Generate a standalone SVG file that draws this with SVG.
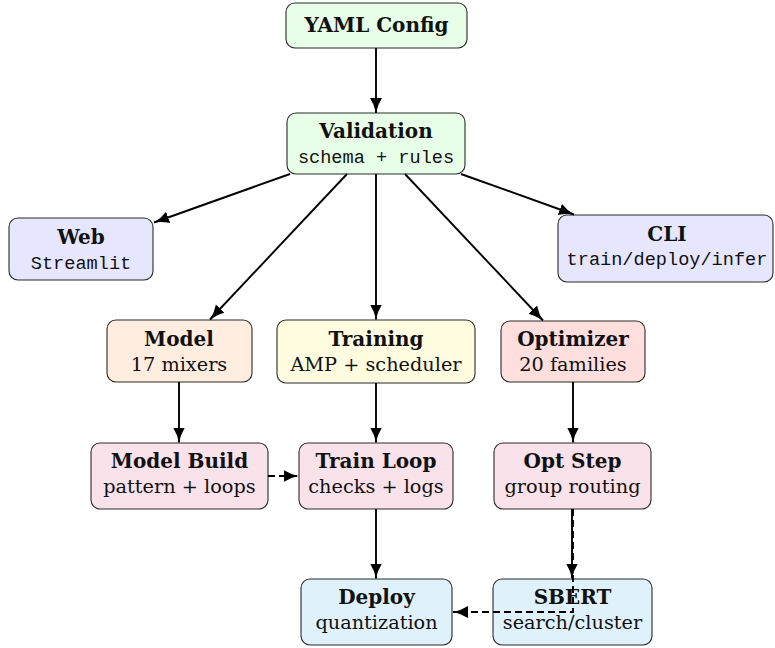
<svg xmlns="http://www.w3.org/2000/svg" width="775" height="648" viewBox="0 0 775 648">
<style>
.box{stroke:#2a2a2a;stroke-width:1.1}
.t{font-family:"DejaVu Serif","Liberation Serif",serif;font-weight:bold;font-size:20px;fill:#111;text-anchor:middle}
.s{font-family:"DejaVu Serif","Liberation Serif",serif;font-size:19.3px;fill:#111;text-anchor:middle}
.m{font-family:"Liberation Mono","DejaVu Sans Mono",monospace;font-size:18.6px;fill:#111;text-anchor:middle}
.green{fill:#e6ffe6}.blue{fill:#e6e6ff}.orange{fill:#ffeee0}.yellow{fill:#fffce0}.red{fill:#ffdede}.pink{fill:#f9e2ea}.cyan{fill:#dff2fb}
.c{stroke:#000;stroke-width:1.9;fill:none;marker-end:url(#ah)}
.d{stroke-dasharray:7 4}
</style>
<defs>
<marker id="ah" markerUnits="userSpaceOnUse" markerWidth="18" markerHeight="14" refX="15" refY="6" orient="auto">
<path d="M0,0 Q7,4.5 15,6 Q7,7.5 0,12 Z" fill="#000"/>
</marker>
</defs>
<g id="yaml"><rect class="box green" x="286" y="3" width="181" height="45" rx="9"/><text class="t" x="376.5" y="32">YAML Config</text></g>
<g id="validation"><rect class="box green" x="287" y="113" width="178" height="61" rx="9"/><text class="t" x="376" y="138">Validation</text><text class="m" x="376" y="163">schema + rules</text></g>
<g id="web"><rect class="box blue" x="9" y="218" width="144" height="62" rx="9"/><text class="t" x="81" y="244">Web</text><text class="m" x="81" y="269">Streamlit</text></g>
<g id="cli"><rect class="box blue" x="558" y="215" width="215" height="67" rx="9"/><text class="t" x="667" y="241">CLI</text><text class="m" x="667" y="265">train/deploy/infer</text></g>
<g id="model"><rect class="box orange" x="107" y="320" width="145" height="62" rx="9"/><text class="t" x="179" y="346">Model</text><text class="s" x="179" y="371">17 mixers</text></g>
<g id="training"><rect class="box yellow" x="277" y="320" width="198" height="63" rx="9"/><text class="t" x="376" y="346">Training</text><text class="s" x="376" y="371">AMP + scheduler</text></g>
<g id="optimizer"><rect class="box red" x="501" y="321" width="144" height="61" rx="9"/><text class="t" x="573" y="346">Optimizer</text><text class="s" x="573" y="371">20 families</text></g>
<g id="modelbuild"><rect class="box pink" x="91" y="443" width="177" height="66" rx="9"/><text class="t" x="179.5" y="468">Model Build</text><text class="s" x="179.5" y="493">pattern + loops</text></g>
<g id="trainloop"><rect class="box pink" x="299" y="443" width="154" height="66" rx="9"/><text class="t" x="376" y="468">Train Loop</text><text class="s" x="376" y="493">checks + logs</text></g>
<g id="optstep"><rect class="box pink" x="494" y="443" width="157" height="66" rx="9"/><text class="t" x="572.5" y="468">Opt Step</text><text class="s" x="572.5" y="493">group routing</text></g>
<g id="deploy"><rect class="box cyan" x="301" y="579" width="151" height="66" rx="9"/><text class="t" x="376.5" y="604">Deploy</text><text class="s" x="376.5" y="629">quantization</text></g>
<g id="sbert"><rect class="box cyan" x="493" y="579" width="159" height="66" rx="9"/><text class="t" x="572.5" y="604">SBERT</text><text class="s" x="572.5" y="629">search/cluster</text></g>
<g id="connectors">
<line class="c" x1="376" y1="48" x2="376" y2="113"/>
<line class="c" x1="290" y1="174" x2="154" y2="222.5"/>
<line class="c" x1="461" y1="174" x2="574" y2="214.5"/>
<line class="c" x1="347" y1="174" x2="210" y2="319.5"/>
<line class="c" x1="405" y1="174" x2="543" y2="320.5"/>
<line class="c" x1="376" y1="174" x2="376" y2="319.5"/>
<line class="c" x1="179" y1="382" x2="179" y2="442.5"/>
<line class="c" x1="376" y1="383" x2="376" y2="442.5"/>
<line class="c" x1="573" y1="382" x2="573" y2="442.5"/>
<line class="c d" x1="268" y1="476" x2="298.5" y2="476"/>
<line class="c" x1="572" y1="509" x2="572" y2="578.5"/>
<line class="c" x1="376" y1="509" x2="376" y2="578.5"/>
<path class="c d" d="M573,509 V612 H453"/>
</g>
</svg>
